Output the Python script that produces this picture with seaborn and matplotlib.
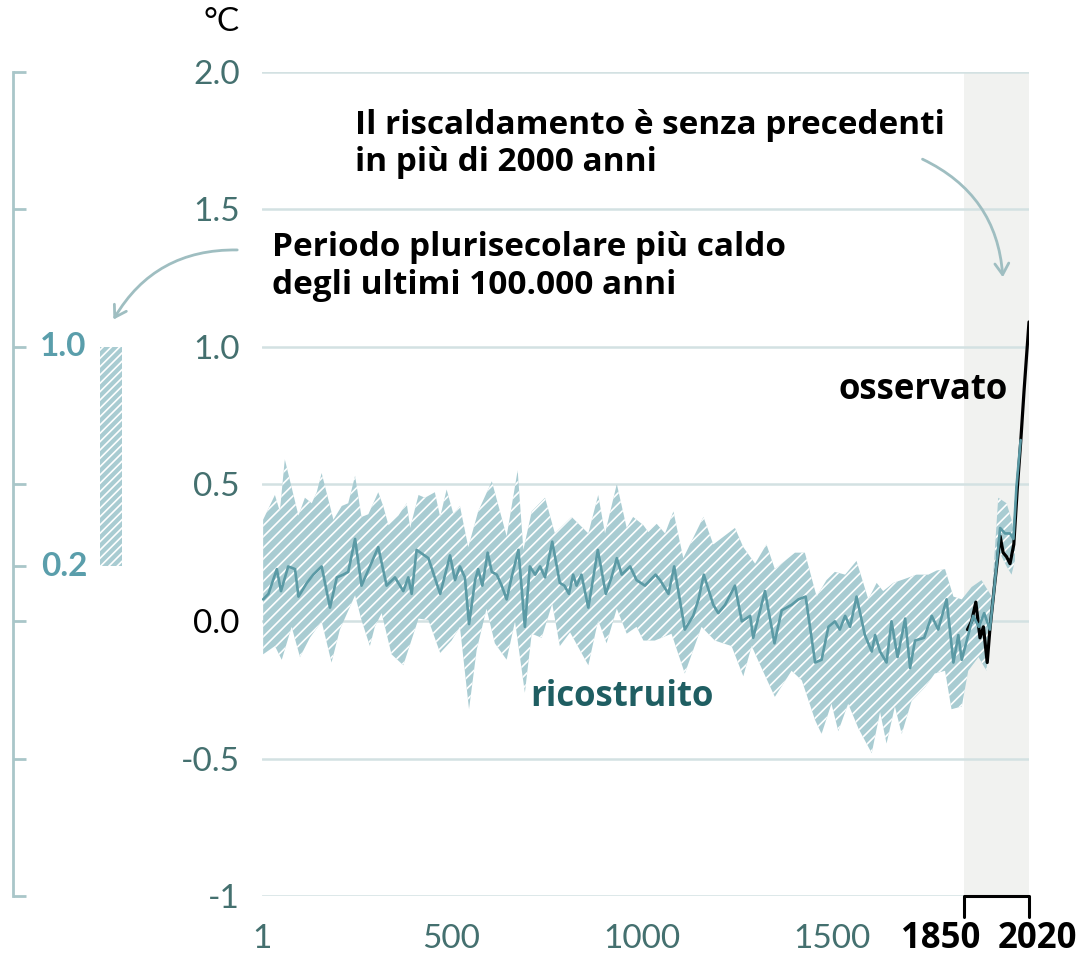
import numpy as np
import matplotlib
matplotlib.use('Agg')
import matplotlib.pyplot as plt
import seaborn as sns
from matplotlib.patches import FancyArrowPatch

# ---------------- data ----------------
recon_years = [4, 18, 40, 51, 70, 88, 97, 119, 136, 158, 180, 198, 215, 228, 246, 263, 285, 307,
               329, 351, 373, 386, 395, 408, 439, 470, 496, 509, 522, 535, 546, 562, 570, 581,
               595, 606, 619, 632, 645, 658, 676, 693, 706, 720, 733, 746, 765, 785, 797, 809,
               820, 829, 842, 860, 885, 906, 921, 935, 948, 970, 987, 1009, 1037, 1049, 1071,
               1086, 1114, 1136, 1150, 1164, 1189, 1202, 1220, 1246, 1264, 1286, 1294, 1325,
               1350, 1369, 1395, 1413, 1432, 1457, 1474, 1492, 1509, 1522, 1536, 1549, 1566,
               1588, 1606, 1615, 1628, 1645, 1658, 1674, 1694, 1707, 1720, 1744, 1764, 1781,
               1803, 1821, 1834, 1843, 1860, 1873, 1888, 1902, 1917, 1930, 1944, 1957, 1970,
               1979, 1987, 1998]
recon_median = [0.08, 0.10, 0.19, 0.11, 0.20, 0.19, 0.09, 0.14, 0.17, 0.20, 0.05, 0.16, 0.17, 0.18,
                0.30, 0.13, 0.20, 0.27, 0.13, 0.16, 0.11, 0.16, 0.10, 0.26, 0.23, 0.10, 0.24, 0.15,
                0.20, 0.16, -0.01, 0.15, 0.19, 0.13, 0.25, 0.18, 0.17, 0.13, 0.08, 0.16, 0.26,
                -0.02, 0.20, 0.17, 0.20, 0.16, 0.29, 0.14, 0.13, 0.10, 0.17, 0.13, 0.17, 0.05,
                0.26, 0.10, 0.16, 0.23, 0.17, 0.20, 0.15, 0.13, 0.17, 0.15, 0.10, 0.20, -0.03,
                0.02, 0.08, 0.17, 0.06, 0.03, 0.06, 0.13, 0.00, 0.02, -0.06, 0.11, -0.08, 0.04,
                0.06, 0.08, 0.09, -0.15, -0.14, -0.02, 0.00, -0.03, 0.02, -0.02, 0.09, -0.05,
                -0.11, -0.05, -0.11, -0.15, 0.00, -0.13, 0.01, -0.17, -0.07, -0.06, 0.02, -0.03,
                0.08, -0.15, -0.05, -0.14, -0.05, 0.02, -0.02, 0.03, -0.03, 0.14, 0.34, 0.32,
                0.32, 0.30, 0.49, 0.66]

upper_years = [4, 35, 48, 61, 97, 114, 132, 145, 158, 189, 211, 228, 246, 263, 281, 307, 320, 334,
               360, 382, 391, 413, 430, 456, 470, 487, 505, 522, 544, 570, 606, 645, 674, 689,
               711, 746, 772, 816, 860, 886, 904, 935, 961, 978, 1005, 1018, 1040, 1062, 1084,
               1110, 1163, 1189, 1246, 1268, 1299, 1329, 1351, 1404, 1430, 1461, 1487, 1509,
               1536, 1566, 1597, 1619, 1636, 1663, 1694, 1724, 1755, 1777, 1799, 1821, 1843,
               1869, 1895, 1922, 1939, 1961, 1974, 1983]
upper_values = [0.37, 0.46, 0.40, 0.59, 0.385, 0.45, 0.43, 0.47, 0.54, 0.37, 0.42, 0.43, 0.53, 0.38,
                0.39, 0.47, 0.42, 0.35, 0.385, 0.43, 0.34, 0.46, 0.45, 0.47, 0.38, 0.48, 0.39,
                0.42, 0.27, 0.40, 0.51, 0.31, 0.55, 0.26, 0.40, 0.45, 0.32, 0.38, 0.32, 0.46,
                0.32, 0.50, 0.34, 0.38, 0.35, 0.325, 0.355, 0.32, 0.40, 0.23, 0.38, 0.28, 0.34,
                0.27, 0.21, 0.28, 0.19, 0.25, 0.25, 0.09, 0.15, 0.18, 0.17, 0.22, 0.08, 0.14,
                0.11, 0.14, 0.155, 0.17, 0.17, 0.185, 0.19, 0.09, 0.08, 0.125, 0.15, 0.09, 0.45,
                0.43, 0.37, 0.30]

lower_years = [4, 35, 53, 79, 101, 127, 158, 184, 206, 246, 263, 285, 298, 316, 342, 373, 413, 439,
               470, 500, 522, 546, 566, 592, 614, 645, 667, 693, 711, 737, 765, 785, 812, 860,
               886, 908, 935, 961, 987, 1005, 1035, 1079, 1114, 1158, 1193, 1237, 1268, 1290,
               1316, 1351, 1395, 1422, 1457, 1474, 1500, 1518, 1544, 1571, 1606, 1628, 1645,
               1667, 1685, 1711, 1746, 1772, 1799, 1816, 1843, 1860, 1887, 1908, 1926, 1939,
               1961, 1974, 1983]
lower_values = [-0.12, -0.09, -0.14, -0.02, -0.13, -0.06, 0.00, -0.15, -0.03, 0.095, 0.004, -0.09,
                -0.02, 0.03, -0.12, -0.16, 0.01, 0.005, -0.115, -0.07, -0.02, -0.32, -0.105,
                0.046, -0.08, -0.14, 0.00, -0.26, -0.045, -0.06, 0.064, -0.09, -0.04, -0.16,
                0.004, -0.08, 0.046, -0.045, -0.02, -0.07, -0.07, -0.045, -0.19, -0.02, -0.07,
                -0.09, -0.20, -0.09, -0.17, -0.275, -0.18, -0.215, -0.36, -0.41, -0.30, -0.40,
                -0.30, -0.39, -0.48, -0.33, -0.445, -0.31, -0.41, -0.29, -0.24, -0.19, -0.18,
                -0.32, -0.31, -0.18, -0.13, -0.18, 0.076, 0.26, 0.20, 0.17, 0.22]

obs_years = [1858, 1869, 1880, 1891, 1900, 1910, 1917, 1930, 1944, 1952, 1961, 1970, 1980, 1989,
             1998, 2007, 2020]
obs_values = [-0.03, 0.00, 0.07, -0.06, -0.02, -0.15, -0.03, 0.14, 0.31, 0.25, 0.235, 0.21, 0.28,
              0.48, 0.65, 0.84, 1.09]

y_ticks = [2.0, 1.5, 1.0, 0.5, 0.0, -0.5, -1.0]
y_tick_labels = ['2.0', '1.5', '1.0', '0.5', '0.0', '-0.5', '-1']
x_ticks = [1, 500, 1000, 1500]
x_tick_labels = ['1', '500', '1000', '1500']
recent_period = [1850, 2020]
warm_period_range = [0.2, 1.0]
left_ticks = [2.0, 1.5, 1.0, 0.5, 0.2, 0.0, -0.5, -1.0]

# ---------------- style ----------------
sns.set_style('white')
plt.rcParams['font.family'] = ['Lato', 'DejaVu Sans']
plt.rcParams['hatch.linewidth'] = 1.2

TEAL_LINE = '#5b9aa5'
TEAL_FILL = '#a9ccd2'
GRID = '#d3e1e2'
TICK_TXT = '#44706f'
ARROW = '#9fbec1'
BOLD_FONT = ['Open Sans', 'DejaVu Sans']

W, H = 1086, 957
fig = plt.figure(figsize=(W / 100, H / 100), dpi=100)


def fx(px):
    return px / W


def fy(py):
    return 1 - py / H


# ---------------- main axes ----------------
ax = fig.add_axes([fx(262), fy(896), (1029 - 262) / W, (896 - 72) / H])
ax.set_xlim(1, 2020)
ax.set_ylim(-1, 2)
for s in ax.spines.values():
    s.set_visible(False)
ax.set_facecolor('none')

ax.axvspan(recent_period[0], recent_period[1], color='#f1f2f0', lw=0, zorder=0)
for v in y_ticks:
    ax.axhline(v, color=GRID, lw=1.8, zorder=1)

band_x = np.concatenate([upper_years, lower_years[::-1]])
band_y = np.concatenate([upper_values, lower_values[::-1]])
ax.fill(band_x, band_y, facecolor=TEAL_FILL, edgecolor='white', lw=0, hatch='///', zorder=2)

sns.lineplot(x=obs_years, y=obs_values, ax=ax, color='black', lw=2.3, zorder=3)
sns.lineplot(x=recon_years, y=recon_median, ax=ax, color=TEAL_LINE, lw=1.9, zorder=4)

ax.set_yticks(y_ticks)
ax.set_yticklabels(y_tick_labels)
ax.set_xticks(x_ticks)
ax.set_xticklabels(x_tick_labels)
ax.tick_params(axis='y', length=0, pad=16, labelsize=24, labelcolor=TICK_TXT)
ax.tick_params(axis='x', length=0, pad=20, labelsize=24, labelcolor=TICK_TXT)
for lab in ax.get_yticklabels():
    if lab.get_text() == '0.0':
        lab.set_color('black')
ax.set_xlabel('')
ax.set_ylabel('')

# bracket under the recent period
ax.plot([recent_period[0], recent_period[0], recent_period[1], recent_period[1]],
        [-1.075, -1.0, -1.0, -1.075], color='black', lw=2.2, clip_on=False, zorder=5)
fig.text(fx(941), fy(939), str(recent_period[0]), ha='center', va='center',
         fontsize=25, fontweight='bold', color='black', family=BOLD_FONT)
fig.text(fx(1037), fy(939), str(recent_period[1]), ha='center', va='center',
         fontsize=25, fontweight='bold', color='black', family=BOLD_FONT)

# ---------------- left axis with the warm-period bar ----------------
axl = fig.add_axes([fx(13), fy(896), (135 - 13) / W, (896 - 72) / H])
axl.set_facecolor('none')
axl.set_xlim(0, 122)
axl.set_ylim(-1, 2)
for k, s in axl.spines.items():
    s.set_visible(k == 'left')
axl.spines['left'].set_color('#a9c6c9')
axl.spines['left'].set_linewidth(2)
axl.set_yticks(left_ticks)
axl.set_yticklabels([''] * len(left_ticks))
axl.set_xticks([])
axl.tick_params(axis='y', left=True, direction='in', length=9, width=2, color='#a9c6c9')
axl.bar(98, warm_period_range[1] - warm_period_range[0], bottom=warm_period_range[0], width=22,
        facecolor=TEAL_FILL, edgecolor='white', lw=0, hatch='////')
fig.text(fx(86), fy(347), f'{warm_period_range[1]:.1f}', ha='right', va='center', fontsize=24,
         fontweight='bold', color='#5a9eab')
fig.text(fx(88), fy(566), f'{warm_period_range[0]:.1f}', ha='right', va='center', fontsize=24,
         fontweight='bold', color='#5a9eab')

# ---------------- texts ----------------
fig.text(fx(222), fy(22), '°C', ha='center', va='center', fontsize=24, color='black')
fig.text(fx(355), fy(144), 'Il riscaldamento è senza precedenti\nin più di 2000 anni',
         ha='left', va='center', fontsize=24, fontweight='bold', color='black',
         linespacing=1.15, family=BOLD_FONT)
fig.text(fx(272), fy(266), 'Periodo plurisecolare più caldo\ndegli ultimi 100.000 anni',
         ha='left', va='center', fontsize=24, fontweight='bold', color='black',
         linespacing=1.2, family=BOLD_FONT)
fig.text(fx(838), fy(390), 'osservato', ha='left', va='center', fontsize=25,
         fontweight='bold', color='black', family=BOLD_FONT)
fig.text(fx(530), fy(697), 'ricostruito', ha='left', va='center', fontsize=25,
         fontweight='bold', color='#1f5e62', family=BOLD_FONT)

# ---------------- arrows ----------------
a1 = FancyArrowPatch((fx(240), fy(250)), (fx(112), fy(322)), transform=fig.transFigure,
                     connectionstyle='arc3,rad=0.3', arrowstyle='->,head_length=8,head_width=5',
                     color=ARROW, lw=2)
a2 = FancyArrowPatch((fx(920), fy(158)), (fx(1003), fy(280)), transform=fig.transFigure,
                     connectionstyle='arc3,rad=-0.3', arrowstyle='->,head_length=8,head_width=5',
                     color=ARROW, lw=2)
fig.patches.extend([a1, a2])

fig.savefig('out.png', dpi=100, facecolor='white')
